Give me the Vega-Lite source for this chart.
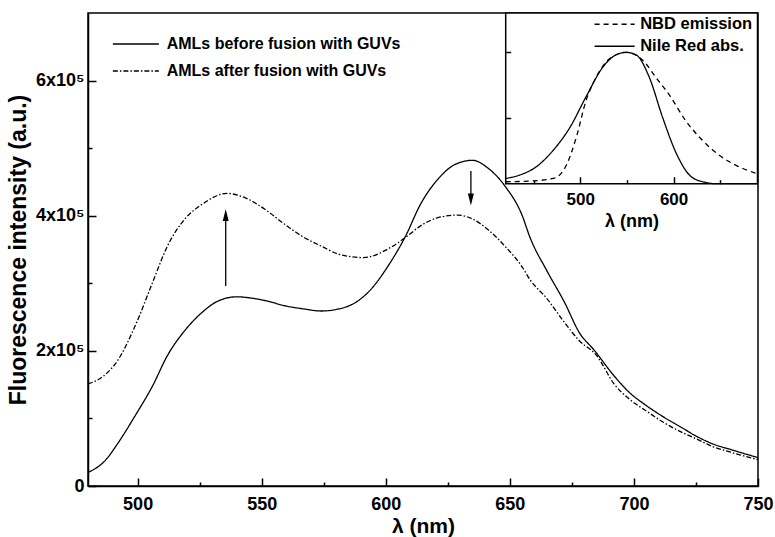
{
  "$schema": "https://vega.github.io/schema/vega-lite/v6.json",
  "width": 670,
  "height": 473,
  "autosize": {"type": "none"},
  "padding": {"left": 88, "top": 13, "right": 17, "bottom": 51},
  "background": "white",
  "config": {
    "font": "Liberation Sans",
    "view": {"stroke": "black", "strokeWidth": 1.5},
    "axis": {
      "domainColor": "black", "domainWidth": 1.5,
      "tickColor": "black", "tickWidth": 1.5,
      "labelColor": "black", "labelFont": "Liberation Sans", "labelFontWeight": "bold", "labelFontSize": 18,
      "titleColor": "black", "titleFont": "Liberation Sans", "titleFontWeight": "bold", "titleFontSize": 21,
      "grid": false, "labelFlush": false, "labelOverlap": false
    }
  },
  "layer": [
    {
      "layer": [
        {
          "data": {"values": [
            {"nm": 480, "intensity": 20000, "series": "AMLs before fusion with GUVs"},
            {"nm": 487, "intensity": 38000, "series": "AMLs before fusion with GUVs"},
            {"nm": 492, "intensity": 63000, "series": "AMLs before fusion with GUVs"},
            {"nm": 499, "intensity": 104000, "series": "AMLs before fusion with GUVs"},
            {"nm": 506, "intensity": 148000, "series": "AMLs before fusion with GUVs"},
            {"nm": 512, "intensity": 193000, "series": "AMLs before fusion with GUVs"},
            {"nm": 519, "intensity": 230000, "series": "AMLs before fusion with GUVs"},
            {"nm": 526, "intensity": 257000, "series": "AMLs before fusion with GUVs"},
            {"nm": 532, "intensity": 273000, "series": "AMLs before fusion with GUVs"},
            {"nm": 540, "intensity": 280000, "series": "AMLs before fusion with GUVs"},
            {"nm": 546, "intensity": 278000, "series": "AMLs before fusion with GUVs"},
            {"nm": 553, "intensity": 273000, "series": "AMLs before fusion with GUVs"},
            {"nm": 559, "intensity": 267000, "series": "AMLs before fusion with GUVs"},
            {"nm": 567, "intensity": 262000, "series": "AMLs before fusion with GUVs"},
            {"nm": 574, "intensity": 259000, "series": "AMLs before fusion with GUVs"},
            {"nm": 581, "intensity": 262000, "series": "AMLs before fusion with GUVs"},
            {"nm": 588, "intensity": 272000, "series": "AMLs before fusion with GUVs"},
            {"nm": 594, "intensity": 291000, "series": "AMLs before fusion with GUVs"},
            {"nm": 601, "intensity": 326000, "series": "AMLs before fusion with GUVs"},
            {"nm": 608, "intensity": 370000, "series": "AMLs before fusion with GUVs"},
            {"nm": 614, "intensity": 417000, "series": "AMLs before fusion with GUVs"},
            {"nm": 621, "intensity": 454000, "series": "AMLs before fusion with GUVs"},
            {"nm": 628, "intensity": 476000, "series": "AMLs before fusion with GUVs"},
            {"nm": 635, "intensity": 482000, "series": "AMLs before fusion with GUVs"},
            {"nm": 641, "intensity": 471000, "series": "AMLs before fusion with GUVs"},
            {"nm": 648, "intensity": 444000, "series": "AMLs before fusion with GUVs"},
            {"nm": 655, "intensity": 400000, "series": "AMLs before fusion with GUVs"},
            {"nm": 658, "intensity": 369000, "series": "AMLs before fusion with GUVs"},
            {"nm": 665, "intensity": 318000, "series": "AMLs before fusion with GUVs"},
            {"nm": 672, "intensity": 272000, "series": "AMLs before fusion with GUVs"},
            {"nm": 678, "intensity": 227000, "series": "AMLs before fusion with GUVs"},
            {"nm": 684, "intensity": 201000, "series": "AMLs before fusion with GUVs"},
            {"nm": 692, "intensity": 163000, "series": "AMLs before fusion with GUVs"},
            {"nm": 698, "intensity": 139000, "series": "AMLs before fusion with GUVs"},
            {"nm": 705, "intensity": 119000, "series": "AMLs before fusion with GUVs"},
            {"nm": 712, "intensity": 102000, "series": "AMLs before fusion with GUVs"},
            {"nm": 719, "intensity": 87000, "series": "AMLs before fusion with GUVs"},
            {"nm": 725, "intensity": 74000, "series": "AMLs before fusion with GUVs"},
            {"nm": 732, "intensity": 62000, "series": "AMLs before fusion with GUVs"},
            {"nm": 739, "intensity": 54000, "series": "AMLs before fusion with GUVs"},
            {"nm": 750, "intensity": 42000, "series": "AMLs before fusion with GUVs"},
            {"nm": 480, "intensity": 151000, "series": "AMLs after fusion with GUVs"},
            {"nm": 486, "intensity": 162000, "series": "AMLs after fusion with GUVs"},
            {"nm": 492, "intensity": 186000, "series": "AMLs after fusion with GUVs"},
            {"nm": 499, "intensity": 237000, "series": "AMLs after fusion with GUVs"},
            {"nm": 506, "intensity": 301000, "series": "AMLs after fusion with GUVs"},
            {"nm": 512, "intensity": 355000, "series": "AMLs after fusion with GUVs"},
            {"nm": 519, "intensity": 395000, "series": "AMLs after fusion with GUVs"},
            {"nm": 526, "intensity": 417000, "series": "AMLs after fusion with GUVs"},
            {"nm": 536, "intensity": 433000, "series": "AMLs after fusion with GUVs"},
            {"nm": 543, "intensity": 427000, "series": "AMLs after fusion with GUVs"},
            {"nm": 553, "intensity": 405000, "series": "AMLs after fusion with GUVs"},
            {"nm": 559, "intensity": 388000, "series": "AMLs after fusion with GUVs"},
            {"nm": 567, "intensity": 368000, "series": "AMLs after fusion with GUVs"},
            {"nm": 574, "intensity": 355000, "series": "AMLs after fusion with GUVs"},
            {"nm": 581, "intensity": 343000, "series": "AMLs after fusion with GUVs"},
            {"nm": 591, "intensity": 338000, "series": "AMLs after fusion with GUVs"},
            {"nm": 601, "intensity": 351000, "series": "AMLs after fusion with GUVs"},
            {"nm": 608, "intensity": 368000, "series": "AMLs after fusion with GUVs"},
            {"nm": 614, "intensity": 385000, "series": "AMLs after fusion with GUVs"},
            {"nm": 621, "intensity": 397000, "series": "AMLs after fusion with GUVs"},
            {"nm": 629, "intensity": 401000, "series": "AMLs after fusion with GUVs"},
            {"nm": 635, "intensity": 395000, "series": "AMLs after fusion with GUVs"},
            {"nm": 641, "intensity": 380000, "series": "AMLs after fusion with GUVs"},
            {"nm": 648, "intensity": 355000, "series": "AMLs after fusion with GUVs"},
            {"nm": 655, "intensity": 324000, "series": "AMLs after fusion with GUVs"},
            {"nm": 658, "intensity": 306000, "series": "AMLs after fusion with GUVs"},
            {"nm": 665, "intensity": 277000, "series": "AMLs after fusion with GUVs"},
            {"nm": 672, "intensity": 242000, "series": "AMLs after fusion with GUVs"},
            {"nm": 678, "intensity": 215000, "series": "AMLs after fusion with GUVs"},
            {"nm": 685, "intensity": 193000, "series": "AMLs after fusion with GUVs"},
            {"nm": 692, "intensity": 151000, "series": "AMLs after fusion with GUVs"},
            {"nm": 698, "intensity": 129000, "series": "AMLs after fusion with GUVs"},
            {"nm": 705, "intensity": 111000, "series": "AMLs after fusion with GUVs"},
            {"nm": 712, "intensity": 94000, "series": "AMLs after fusion with GUVs"},
            {"nm": 719, "intensity": 80000, "series": "AMLs after fusion with GUVs"},
            {"nm": 725, "intensity": 70000, "series": "AMLs after fusion with GUVs"},
            {"nm": 732, "intensity": 58000, "series": "AMLs after fusion with GUVs"},
            {"nm": 739, "intensity": 50000, "series": "AMLs after fusion with GUVs"},
            {"nm": 750, "intensity": 39000, "series": "AMLs after fusion with GUVs"}
          ]},
          "mark": {"type": "line", "interpolate": "monotone", "color": "black", "strokeWidth": 1.3},
          "encoding": {
            "x": {"field": "nm", "type": "quantitative", "title": "λ (nm)",
              "scale": {"domain": [480, 750], "nice": false, "zero": false},
              "axis": {"values": [500, 525, 550, 575, 600, 625, 650, 675, 700, 725, 750],
                "tickSize": {"condition": {"test": "datum.value % 50 === 0", "value": -8}, "value": -4},
                "labelExpr": "datum.value % 50 === 0 ? datum.label : ''",
                "labelPadding": 17, "titleY": 46, "titleBaseline": "alphabetic"}},
            "y": {"field": "intensity", "type": "quantitative", "title": "Fluorescence intensity (a.u.)",
              "scale": {"domain": [0, 700000], "nice": false},
              "axis": {"values": [0, 100000, 200000, 300000, 400000, 500000, 600000],
                "tickSize": {"condition": {"test": "datum.value % 200000 === 0", "value": -8}, "value": -4},
                "labelExpr": "datum.value === 0 ? '0' : (datum.value % 200000 === 0 ? (datum.value / 100000) + 'x10⁵' : '')",
                "labelPadding": 12, "titlePadding": 5, "titleFontSize": 23}},
            "strokeDash": {"field": "series", "type": "nominal",
              "scale": {"domain": ["AMLs before fusion with GUVs", "AMLs after fusion with GUVs"], "range": [[1, 0], [5, 2, 1.5, 2]]},
              "legend": {"orient": "none", "legendX": 54.7, "legendY": 22.5, "direction": "vertical", "title": null,
                "symbolType": "M-5,0H1", "symbolSize": 235, "symbolStrokeWidth": 1.3, "symbolStrokeColor": "black",
                "labelFontSize": 16, "labelFontWeight": "bold", "labelFont": "Liberation Sans", "labelColor": "black",
                "labelOffset": 7, "rowPadding": 10, "padding": 0, "labelLimit": 500}}
          }
        },
        {
          "data": {"values": [
            {"nm": 535.5, "from": 296000, "to": 398000},
            {"nm": 634.3, "from": 466000, "to": 428000}
          ]},
          "mark": {"type": "rule", "color": "black", "strokeWidth": 1.3},
          "encoding": {
            "x": {"field": "nm", "type": "quantitative", "title": "λ (nm)"},
            "y": {"field": "from", "type": "quantitative", "title": "Fluorescence intensity (a.u.)"},
            "y2": {"field": "to"}
          }
        },
        {
          "data": {"values": [{"nm": 535.5, "tip": 410000}]},
          "mark": {"type": "point", "filled": true, "color": "black", "opacity": 1, "size": 144, "shape": "M0,0L-0.5,2L0.5,2Z", "strokeWidth": 0},
          "encoding": {
            "x": {"field": "nm", "type": "quantitative", "title": "λ (nm)"},
            "y": {"field": "tip", "type": "quantitative", "title": "Fluorescence intensity (a.u.)"}
          }
        },
        {
          "data": {"values": [{"nm": 634.3, "tip": 415000}]},
          "mark": {"type": "point", "filled": true, "color": "black", "opacity": 1, "size": 144, "shape": "M0,0L-0.5,-2L0.5,-2Z", "strokeWidth": 0},
          "encoding": {
            "x": {"field": "nm", "type": "quantitative", "title": "λ (nm)"},
            "y": {"field": "tip", "type": "quantitative", "title": "Fluorescence intensity (a.u.)"}
          }
        }
      ]
    },
    {
      "layer": [
        {
          "data": {"values": [{}]},
          "mark": {"type": "rect", "fill": "white", "stroke": "black", "strokeWidth": 1.5},
          "encoding": {
            "x": {"datum": 420, "type": "quantitative",
              "scale": {"domain": [420, 690], "range": [417.7, 669.5], "nice": false, "zero": false},
              "axis": {"values": [450, 500, 550, 600, 650], "orient": "bottom", "offset": -302.3, "zindex": 1, "domain": false,
                "tickSize": {"condition": {"test": "datum.value % 100 === 0", "value": -7}, "value": -4},
                "labelExpr": "datum.value % 100 === 0 ? datum.label : ''",
                "labelFontSize": 17, "labelPadding": 15, "titlePadding": 2, "title": "λ (nm)", "titleFontSize": 18}},
            "x2": {"datum": 690},
            "y": {"datum": 0, "type": "quantitative",
              "scale": {"domain": [0, 1.3], "range": [170.7, 0], "nice": false, "zero": false},
              "axis": {"values": [0.5, 1.0], "orient": "left", "offset": -417.7, "zindex": 1, "domain": false,
                "tickSize": -5, "labels": false, "title": null}},
            "y2": {"datum": 1.3}
          }
        },
        {
          "data": {"values": [
            {"nm": 420, "abs": 0.015, "dye": "NBD emission"},
            {"nm": 446, "abs": 0.02, "dye": "NBD emission"},
            {"nm": 471, "abs": 0.04, "dye": "NBD emission"},
            {"nm": 485, "abs": 0.14, "dye": "NBD emission"},
            {"nm": 496, "abs": 0.36, "dye": "NBD emission"},
            {"nm": 506, "abs": 0.63, "dye": "NBD emission"},
            {"nm": 517, "abs": 0.81, "dye": "NBD emission"},
            {"nm": 531, "abs": 0.95, "dye": "NBD emission"},
            {"nm": 549, "abs": 1.0, "dye": "NBD emission"},
            {"nm": 567, "abs": 0.94, "dye": "NBD emission"},
            {"nm": 581, "abs": 0.81, "dye": "NBD emission"},
            {"nm": 596, "abs": 0.67, "dye": "NBD emission"},
            {"nm": 613, "abs": 0.48, "dye": "NBD emission"},
            {"nm": 631, "abs": 0.33, "dye": "NBD emission"},
            {"nm": 649, "abs": 0.217, "dye": "NBD emission"},
            {"nm": 667, "abs": 0.14, "dye": "NBD emission"},
            {"nm": 690, "abs": 0.075, "dye": "NBD emission"},
            {"nm": 420, "abs": 0.04, "dye": "Nile Red abs."},
            {"nm": 435, "abs": 0.066, "dye": "Nile Red abs."},
            {"nm": 453, "abs": 0.13, "dye": "Nile Red abs."},
            {"nm": 471, "abs": 0.255, "dye": "Nile Red abs."},
            {"nm": 489, "abs": 0.43, "dye": "Nile Red abs."},
            {"nm": 506, "abs": 0.66, "dye": "Nile Red abs."},
            {"nm": 524, "abs": 0.886, "dye": "Nile Red abs."},
            {"nm": 538, "abs": 0.98, "dye": "Nile Red abs."},
            {"nm": 549, "abs": 1.0, "dye": "Nile Red abs."},
            {"nm": 560, "abs": 0.98, "dye": "Nile Red abs."},
            {"nm": 574, "abs": 0.81, "dye": "Nile Red abs."},
            {"nm": 588, "abs": 0.51, "dye": "Nile Red abs."},
            {"nm": 603, "abs": 0.23, "dye": "Nile Red abs."},
            {"nm": 617, "abs": 0.066, "dye": "Nile Red abs."},
            {"nm": 631, "abs": 0.015, "dye": "Nile Red abs."},
            {"nm": 646, "abs": 0.0, "dye": "Nile Red abs."},
            {"nm": 660, "abs": 0.0, "dye": "Nile Red abs."},
            {"nm": 690, "abs": 0.0, "dye": "Nile Red abs."}
          ]},
          "mark": {"type": "line", "interpolate": "monotone", "color": "black", "strokeWidth": 1.3},
          "encoding": {
            "x": {"field": "nm", "type": "quantitative"},
            "y": {"field": "abs", "type": "quantitative"},
            "strokeDash": {"field": "dye", "type": "nominal",
              "scale": {"domain": ["NBD emission", "Nile Red abs."], "range": [[5, 4], [1, 0]]},
              "legend": {"orient": "none", "legendX": 531.7, "legendY": 3, "direction": "vertical", "title": null,
                "symbolType": "M-5,0H1", "symbolSize": 178, "symbolStrokeWidth": 1.3, "symbolStrokeColor": "black",
                "labelFontSize": 16.5, "labelFontWeight": "bold", "labelFont": "Liberation Sans", "labelColor": "black",
                "labelOffset": 4, "rowPadding": 5, "padding": 0, "labelLimit": 500}}
          }
        }
      ]
    }
  ],
  "resolve": {"scale": {"x": "independent", "y": "independent", "strokeDash": "independent"}}
}
